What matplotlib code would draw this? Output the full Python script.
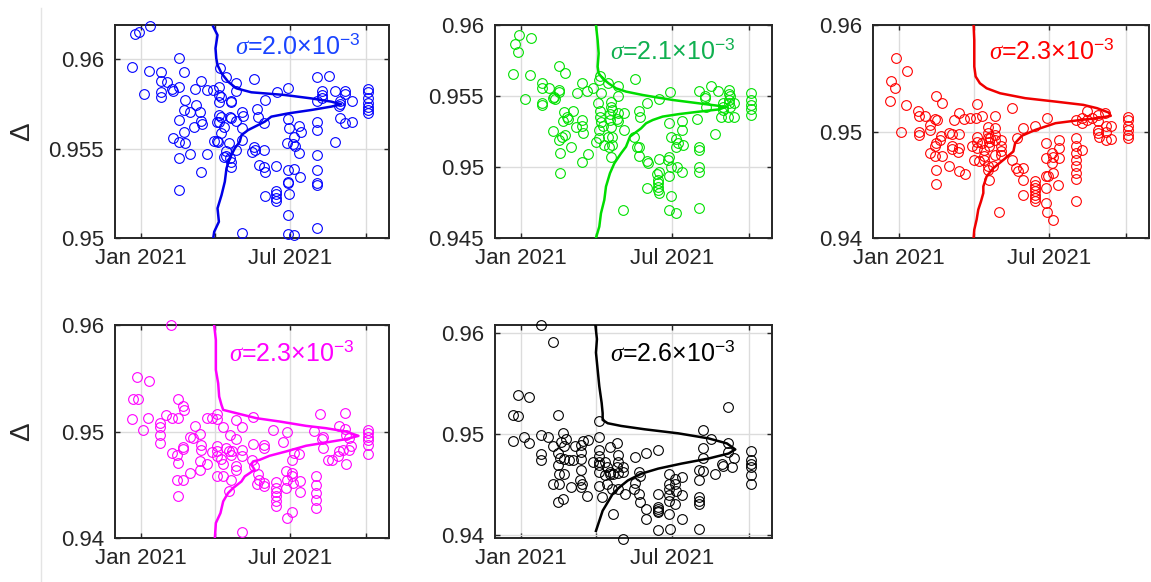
import numpy as np
import matplotlib
matplotlib.use('Agg')  # headless
import matplotlib.pyplot as plt
import matplotlib.dates as mdates
from matplotlib.lines import Line2D
from matplotlib.ticker import FuncFormatter, FormatStrFormatter

plt.rcParams['font.family'] = ['Liberation Sans', 'DejaVu Sans']
plt.rcParams['mathtext.fontset'] = 'custom'
plt.rcParams['mathtext.rm'] = 'Liberation Sans'
plt.rcParams['mathtext.it'] = 'Liberation Serif:italic'

# (days since 1 Jan 2021, Delta)
pts_1 = [
    (-7, 0.96138), (-2, 0.96149), (11, 0.96186), (-10, 0.95957), (46, 0.96007), (10, 0.95933),
    (25, 0.95929), (53, 0.95926), (25, 0.95877), (32, 0.95873), (4, 0.95803), (25, 0.95814),
    (25, 0.9579), (38, 0.95832), (39, 0.95821), (47, 0.95844), (73, 0.95877), (66, 0.95832),
    (80, 0.95825), (88, 0.95825), (95, 0.95844), (96, 0.95948), (103, 0.95901), (116, 0.95864),
    (116, 0.95821), (137, 0.95888), (54, 0.9577), (53, 0.95715), (60, 0.95702), (67, 0.95743),
    (72, 0.95706), (46, 0.9566), (73, 0.95655), (74, 0.95637), (65, 0.95622), (53, 0.95594),
    (39, 0.9556), (46, 0.95538), (54, 0.95533), (60, 0.95467), (80, 0.95467), (46, 0.95445),
    (73, 0.95367), (46, 0.9527), (95, 0.95799), (97, 0.9579), (109, 0.95765), (109, 0.95758),
    (95, 0.95758), (95, 0.95687), (97, 0.95678), (108, 0.95678), (109, 0.95672), (116, 0.95654),
    (123, 0.95706), (124, 0.95684), (92, 0.95646), (95, 0.95646), (101, 0.95622), (97, 0.95585),
    (89, 0.95542), (92, 0.95542), (94, 0.95538), (107, 0.95529), (103, 0.95486), (104, 0.9546),
    (108, 0.95445), (101, 0.95454), (110, 0.95427), (110, 0.95399), (116, 0.95492), (123, 0.95548),
    (123, 0.95616), (141, 0.95721), (151, 0.95769), (142, 0.95678), (149, 0.95644), (137, 0.95511),
    (135, 0.95479), (139, 0.95492), (149, 0.95492), (143, 0.95408), (150, 0.95395), (151, 0.95371),
    (165, 0.95818), (179, 0.95836), (164, 0.95402), (179, 0.95665), (180, 0.95613), (186, 0.95562),
    (192, 0.95624), (194, 0.9559), (185, 0.95523), (187, 0.95516), (192, 0.95473), (178, 0.95533),
    (179, 0.9538), (186, 0.95385), (193, 0.95343), (179, 0.95315), (179, 0.95306), (180, 0.95246),
    (164, 0.95263), (164, 0.95244), (164, 0.95225), (164, 0.95207), (151, 0.95235), (179, 0.95129),
    (179, 0.95022), (186, 0.95017), (123, 0.9503), (214, 0.95899), (228, 0.95907), (214, 0.95767),
    (220, 0.95821), (220, 0.95799), (220, 0.9578), (235, 0.95821), (248, 0.95821), (248, 0.95803),
    (242, 0.95765), (242, 0.95747), (256, 0.95765), (240, 0.95739), (242, 0.95669), (248, 0.95641),
    (256, 0.9565), (214, 0.9565), (214, 0.95603), (235, 0.95538), (214, 0.95464), (214, 0.9538),
    (214, 0.95305), (214, 0.95296), (214, 0.95054), (276, 0.95832), (276, 0.95814), (276, 0.95784),
    (276, 0.95752), (276, 0.95734), (276, 0.95715), (276, 0.95696),
]
pts_2 = [
    (-2, 0.9593), (-7, 0.95866), (-3, 0.9581), (12, 0.95906), (-9, 0.95655), (11, 0.95648), (5, 0.95481),
    (25, 0.95594), (25, 0.95554), (25, 0.95453), (25, 0.95434), (34, 0.95554), (39, 0.95484),
    (46, 0.95711), (53, 0.9566), (46, 0.95542), (46, 0.95531), (40, 0.95491), (41, 0.95477),
    (67, 0.95523), (73, 0.95594), (79, 0.95538), (87, 0.95554), (62, 0.95397), (52, 0.9539), (55, 0.95355),
    (50, 0.95326), (56, 0.9534), (73, 0.95331), (73, 0.95289), (75, 0.95237), (66, 0.95279), (39, 0.95256),
    (49, 0.95214), (53, 0.95225), (46, 0.9519), (60, 0.95139), (47, 0.95101), (80, 0.95092), (73, 0.95038),
    (47, 0.94956), (95, 0.95641), (94, 0.95613), (104, 0.95589), (117, 0.9557), (117, 0.955), (96, 0.95524),
    (93, 0.95453), (95, 0.95397), (108, 0.9546), (108, 0.9542), (109, 0.95401), (107, 0.95373),
    (117, 0.95383), (124, 0.95383), (115, 0.95336), (117, 0.95326), (95, 0.9535), (96, 0.9532), (98, 0.95289),
    (107, 0.95331), (108, 0.9528), (94, 0.95261), (124, 0.95261), (104, 0.95209), (109, 0.95214),
    (94, 0.95202), (90, 0.95178), (100, 0.95155), (106, 0.95143), (109, 0.95155), (108, 0.95073),
    (137, 0.95617), (151, 0.95453), (141, 0.95397), (143, 0.95355), (165, 0.95477), (179, 0.95531),
    (136, 0.95209), (139, 0.95143), (142, 0.95139), (142, 0.95078), (151, 0.95045), (152, 0.95031),
    (165, 0.95059), (165, 0.94967), (163, 0.94951), (164, 0.94909), (164, 0.94885), (164, 0.94862),
    (164, 0.94838), (165, 0.94815), (151, 0.9485), (122, 0.94697), (178, 0.95308), (180, 0.95214),
    (186, 0.95195), (188, 0.95167), (194, 0.95155), (186, 0.95143), (177, 0.95073), (176, 0.95049),
    (180, 0.94998), (187, 0.95003), (178, 0.94937), (180, 0.94796), (178, 0.94697), (186, 0.94674),
    (193, 0.95326), (193, 0.95261), (193, 0.94967), (214, 0.95538), (214, 0.95143), (214, 0.9512),
    (214, 0.95003), (214, 0.94967), (214, 0.94709), (221, 0.955), (221, 0.95484), (228, 0.9557),
    (236, 0.95538), (249, 0.95542), (249, 0.95514), (242, 0.95448), (242, 0.9542), (242, 0.95401),
    (250, 0.95472), (250, 0.95448), (256, 0.95453), (222, 0.95425), (233, 0.95232), (211, 0.95336),
    (240, 0.9535), (248, 0.95355), (255, 0.95355), (276, 0.95524), (276, 0.95472), (276, 0.95437),
    (276, 0.95406), (276, 0.95366), (251, 0.955), (251, 0.9542),
]
pts_3 = [
    (-3, 0.95688), (10, 0.95569), (-9, 0.95478), (-4, 0.9541), (-11, 0.95284), (9, 0.9525), (3, 0.94997),
    (23, 0.95188), (24, 0.95141), (24, 0.95), (24, 0.94969), (32, 0.95141), (45, 0.95334), (52, 0.95272),
    (43, 0.95116), (46, 0.9511), (38, 0.95063), (38, 0.95016), (51, 0.94959), (50, 0.94916), (45, 0.94891),
    (43, 0.9486), (60, 0.94984), (64, 0.94978), (72, 0.94978), (64, 0.9486), (72, 0.94844), (71, 0.94803),
    (64, 0.94834), (38, 0.94797), (44, 0.94766), (52, 0.94766), (45, 0.94641), (60, 0.94672), (72, 0.94625),
    (80, 0.946), (45, 0.94509), (72, 0.95178), (66, 0.9511), (78, 0.95116), (86, 0.95125), (94, 0.95259),
    (100, 0.95147), (116, 0.95147), (93, 0.95125), (94, 0.94953), (94, 0.94906), (94, 0.94844),
    (100, 0.94891), (103, 0.94828), (107, 0.9504), (107, 0.94984), (107, 0.94938), (108, 0.94897),
    (108, 0.9486), (110, 0.94938), (116, 0.95031), (116, 0.94969), (116, 0.94922), (123, 0.94922),
    (123, 0.9486), (123, 0.94813), (88, 0.9486), (90, 0.94734), (97, 0.94719), (103, 0.94766),
    (103, 0.94734), (107, 0.94672), (107, 0.94634), (113, 0.94672), (109, 0.94547), (116, 0.94781),
    (123, 0.94781), (136, 0.95219), (150, 0.95031), (164, 0.95053), (178, 0.95131), (142, 0.94938),
    (136, 0.94734), (141, 0.94656), (143, 0.94625), (150, 0.94656), (150, 0.94541), (150, 0.94406),
    (164, 0.94531), (164, 0.945), (164, 0.94469), (164, 0.94438), (164, 0.94406), (164, 0.94375),
    (164, 0.94344), (177, 0.94891), (177, 0.9475), (177, 0.94584), (179, 0.94578), (177, 0.94469),
    (177, 0.94328), (178, 0.94241), (185, 0.94172), (184, 0.94797), (186, 0.9476), (184, 0.94703),
    (186, 0.94609), (193, 0.94922), (193, 0.94844), (193, 0.9475), (192, 0.945), (121, 0.94241),
    (213, 0.95109), (213, 0.94938), (213, 0.94866), (213, 0.94797), (213, 0.94734), (213, 0.94672),
    (213, 0.94609), (213, 0.94553), (213, 0.94344), (221, 0.95125), (221, 0.95078), (227, 0.95197),
    (232, 0.95125), (240, 0.95156), (240, 0.95094), (240, 0.95016), (240, 0.94984), (241, 0.94953),
    (248, 0.95172), (249, 0.95047), (249, 0.95), (249, 0.94916), (255, 0.95053), (255, 0.94934),
    (227, 0.95109), (276, 0.95134), (276, 0.9511), (276, 0.95053), (276, 0.95016), (276, 0.94969),
    (276, 0.94938), (221, 0.94828),
]
pts_4 = [
    (37, 0.96), (-4, 0.95516), (10, 0.95478), (-9, 0.95303), (-3, 0.95303), (-11, 0.95116), (9, 0.95125),
    (3, 0.95016), (45, 0.95303), (52, 0.95241), (53, 0.95203), (31, 0.95156), (38, 0.95125), (45, 0.95125),
    (23, 0.95078), (24, 0.95041), (24, 0.94969), (24, 0.94891), (38, 0.94797), (44, 0.94781), (52, 0.94859),
    (52, 0.94834), (60, 0.94953), (66, 0.95047), (64, 0.94938), (72, 0.94978), (73, 0.94875), (73, 0.94822),
    (72, 0.94719), (72, 0.94634), (45, 0.94703), (60, 0.94609), (44, 0.94547), (52, 0.94547), (45, 0.94391),
    (80, 0.95125), (86, 0.95125), (80, 0.94697), (93, 0.95163), (93, 0.95116), (100, 0.95041),
    (116, 0.95109), (123, 0.95041), (108, 0.94969), (116, 0.94928), (93, 0.94866), (93, 0.94813),
    (93, 0.94766), (97, 0.94741), (86, 0.94803), (103, 0.94844), (107, 0.94813), (109, 0.94781),
    (111, 0.94813), (100, 0.94697), (116, 0.94672), (116, 0.94634), (123, 0.94828), (123, 0.94772),
    (93, 0.94584), (100, 0.94578), (109, 0.94541), (107, 0.94438), (136, 0.95134), (161, 0.95016),
    (178, 0.95), (136, 0.94884), (150, 0.94875), (150, 0.94844), (135, 0.94734), (137, 0.94672),
    (142, 0.94603), (143, 0.94547), (141, 0.94509), (150, 0.94516), (150, 0.94484), (164, 0.94522),
    (164, 0.94469), (164, 0.94428), (164, 0.94391), (164, 0.94344), (164, 0.94303), (176, 0.94625),
    (177, 0.94547), (176, 0.94469), (184, 0.94728), (184, 0.94609), (184, 0.94578), (185, 0.94516),
    (193, 0.94531), (193, 0.94428), (184, 0.94241), (178, 0.94188), (186, 0.94797), (192, 0.9479),
    (123, 0.94053), (173, 0.94906), (218, 0.95163), (220, 0.94928), (221, 0.94844), (210, 0.95009),
    (213, 0.94578), (213, 0.945), (213, 0.94422), (213, 0.94359), (213, 0.94281), (227, 0.94734),
    (232, 0.94734), (239, 0.94766), (241, 0.94813), (245, 0.94828), (248, 0.95178), (248, 0.95022),
    (249, 0.94969), (249, 0.94697), (255, 0.9486), (253, 0.94822), (241, 0.95053), (221, 0.94953),
    (276, 0.95016), (276, 0.94984), (276, 0.94953), (276, 0.94922), (276, 0.94875), (276, 0.9479),
    (253, 0.94938),
]
pts_5 = [
    (24, 0.9608), (38, 0.95913), (-4, 0.9539), (10, 0.95367), (-10, 0.9519), (-4, 0.9518), (45, 0.9519),
    (4, 0.94967), (-10, 0.94933), (10, 0.94913), (24, 0.9499), (32, 0.94973), (24, 0.94807), (24, 0.9474),
    (39, 0.9488), (51, 0.95007), (54, 0.94947), (48, 0.94923), (52, 0.9488), (44, 0.94813), (47, 0.94767),
    (52, 0.94757), (58, 0.9474), (65, 0.9488), (72, 0.9489), (74, 0.94933), (80, 0.9494), (72, 0.94823),
    (63, 0.94747), (72, 0.94757), (45, 0.9469), (46, 0.94607), (52, 0.94607), (72, 0.9464), (71, 0.94547),
    (73, 0.945), (72, 0.9448), (38, 0.945), (46, 0.94507), (60, 0.94473), (79, 0.9439), (45, 0.94323),
    (51, 0.94357), (94, 0.95133), (94, 0.94973), (107, 0.94873), (115, 0.94907), (94, 0.9484), (94, 0.9478),
    (94, 0.94723), (94, 0.9469), (87, 0.94723), (101, 0.94723), (103, 0.94673), (107, 0.94623), (107, 0.946),
    (110, 0.94607), (117, 0.94613), (115, 0.94673), (123, 0.94673), (123, 0.94623), (117, 0.94723),
    (117, 0.9479), (94, 0.94623), (101, 0.9459), (94, 0.9449), (103, 0.94507), (109, 0.94457),
    (117, 0.94457), (125, 0.94407), (97, 0.94373), (110, 0.94207), (137, 0.94773), (150, 0.94813),
    (164, 0.9484), (141, 0.94623), (143, 0.9458), (137, 0.94513), (136, 0.94457), (141, 0.94407),
    (143, 0.94323), (150, 0.94257), (150, 0.94157), (164, 0.94407), (164, 0.94273), (164, 0.94257),
    (164, 0.9424), (164, 0.94223), (164, 0.94047), (178, 0.946), (178, 0.94507), (178, 0.94457),
    (178, 0.944), (178, 0.9434), (185, 0.94557), (185, 0.94507), (186, 0.9444), (193, 0.94573),
    (193, 0.944), (185, 0.94307), (178, 0.94207), (193, 0.94157), (179, 0.94057), (122, 0.93957),
    (214, 0.9438), (214, 0.9434), (214, 0.94307), (214, 0.9464), (214, 0.9454), (214, 0.9406),
    (218, 0.9504), (228, 0.94947), (218, 0.94857), (218, 0.94767), (218, 0.94633), (233, 0.94607),
    (241, 0.94707), (242, 0.9468), (248, 0.95267), (248, 0.94907), (248, 0.94823), (255, 0.94767),
    (253, 0.94673), (276, 0.94833), (276, 0.9474), (276, 0.947), (276, 0.94673), (276, 0.9459), (276, 0.945),
]

# distribution curves: (Delta, relative density, peak = 1)
curve_1 = [
    (0.96181, -0.013), (0.96134, 0.021), (0.9606, 0.005), (0.96004, 0.011), (0.95966, 0.021),
    (0.9592, 0.053), (0.95873, 0.105), (0.95836, 0.171), (0.95814, 0.289), (0.95799, 0.553),
    (0.9578, 0.763), (0.95762, 0.921), (0.95747, 1.0), (0.95734, 0.921), (0.95715, 0.763),
    (0.95696, 0.579), (0.95678, 0.447), (0.9565, 0.395), (0.95631, 0.342), (0.95603, 0.263),
    (0.95575, 0.211), (0.95538, 0.197), (0.95501, 0.158), (0.95445, 0.118), (0.95389, 0.092),
    (0.95315, 0.079), (0.9524, 0.053), (0.95166, 0.021), (0.95091, 0.032), (0.95035, -0.005), (0.95, -0.013),
]
curve_2 = [
    (0.96, 0.0), (0.95894, 0.013), (0.958, 0.021), (0.95707, 0.013), (0.9566, 0.021), (0.95624, 0.052),
    (0.95589, 0.099), (0.95554, 0.156), (0.95531, 0.234), (0.95507, 0.364), (0.95491, 0.468),
    (0.95472, 0.597), (0.95448, 0.805), (0.9543, 0.961), (0.9542, 1.0), (0.95406, 0.961), (0.9539, 0.805),
    (0.95373, 0.649), (0.95355, 0.519), (0.95331, 0.442), (0.95308, 0.39), (0.95272, 0.351),
    (0.95237, 0.299), (0.95214, 0.265), (0.95143, 0.234), (0.95096, 0.195), (0.95026, 0.143),
    (0.94956, 0.109), (0.94862, 0.078), (0.94768, 0.065), (0.94674, 0.039), (0.9458, 0.026), (0.945, 0.0),
]
curve_3 = [
    (0.96, 0.0), (0.95859, 0.005), (0.95734, 0.005), (0.9561, 0.005), (0.95516, 0.015), (0.95453, 0.046),
    (0.95406, 0.095), (0.95359, 0.193), (0.95313, 0.376), (0.95281, 0.596), (0.9525, 0.8), (0.95219, 0.9),
    (0.95178, 0.985), (0.95147, 1.0), (0.95125, 0.9), (0.9511, 0.792), (0.95078, 0.597), (0.95016, 0.452),
    (0.9496, 0.352), (0.94891, 0.303), (0.94813, 0.29), (0.94734, 0.218), (0.94656, 0.144),
    (0.94578, 0.095), (0.94484, 0.071), (0.94422, 0.071), (0.94344, 0.054), (0.94266, 0.034),
    (0.94172, 0.022), (0.94078, 0.005), (0.94, 0.0),
]
curve_4 = [
    (0.96, -0.005), (0.95859, 0.007), (0.95734, 0.007), (0.95578, 0.007), (0.95453, 0.023), (0.95328, 0.03),
    (0.9525, 0.046), (0.95203, 0.058), (0.95172, 0.15), (0.95125, 0.289), (0.95094, 0.45), (0.95053, 0.635),
    (0.95031, 0.774), (0.95, 0.912), (0.94959, 1.0), (0.94928, 0.912), (0.94897, 0.774), (0.94866, 0.635),
    (0.94813, 0.497), (0.94772, 0.381), (0.94734, 0.312), (0.94719, 0.266), (0.94688, 0.254),
    (0.94641, 0.277), (0.94609, 0.242), (0.94578, 0.208), (0.94531, 0.185), (0.94469, 0.127),
    (0.94422, 0.092), (0.94344, 0.058), (0.94234, 0.039), (0.94141, 0.007), (0.94, 0.0),
]
curve_5 = [
    (0.9609, -0.005), (0.9594, 0.007), (0.95807, 0.0), (0.9564, 0.012), (0.95473, 0.024), (0.95307, 0.041),
    (0.95207, 0.048), (0.9514, 0.048), (0.95107, 0.084), (0.9508, 0.181), (0.95047, 0.349), (0.95007, 0.59),
    (0.94957, 0.807), (0.94907, 0.94), (0.94847, 1.0), (0.94807, 0.952), (0.94757, 0.807), (0.94707, 0.614),
    (0.94657, 0.446), (0.94607, 0.325), (0.9454, 0.229), (0.94473, 0.169), (0.94407, 0.12),
    (0.94323, 0.084), (0.9424, 0.048), (0.9414, 0.024), (0.9404, 0.0),
]

sigmas = [2.0, 2.1, 2.3, 2.3, 2.6]          # x 10^-3
peak_days = [153, 154, 165, 174, 167]       # width of the curve peak along the time axis
ylims = [(0.95, 0.9619), (0.945, 0.96), (0.94, 0.96), (0.94, 0.96), (0.9397, 0.9608)]
yticks = [[0.95, 0.955, 0.96], [0.945, 0.95, 0.955, 0.96], [0.94, 0.95, 0.96],
          [0.94, 0.95, 0.96], [0.94, 0.95, 0.96]]

W, H = 1151, 582
# axes boxes in pixels: left, right, top, bottom
boxes = [(115, 389, 25, 238), (495, 772, 25, 238), (873, 1149, 25, 238),
         (115, 389, 325, 538), (495, 772, 325, 538)]
marker_colors = ['#0000ff', '#00e000', '#ff0000', '#ff00ff', '#000000']
line_colors = ['#0000e6', '#00dd00', '#f00000', '#ff00ff', '#000000']
text_colors = ['#1a44ff', '#10b050', '#ff0000', '#ff00ff', '#000000']
text_pos = [(0.438, 0.9), (0.415, 0.875), (0.42, 0.875), (0.416, 0.865), (0.415, 0.865)]

jan1 = mdates.date2num(np.datetime64('2021-01-01'))
apr1 = mdates.date2num(np.datetime64('2021-04-01'))


def tick_label(x, pos):
    d = mdates.num2date(x)
    return d.strftime('%b %Y') if d.month in (1, 7) else ''


fig = plt.figure(figsize=(W / 100, H / 100), dpi=100)
fig.add_artist(Line2D([41 / W, 41 / W], [0, 1 - 8 / H], color='#e4e4e4', lw=1))

all_pts = [pts_1, pts_2, pts_3, pts_4, pts_5]
all_curves = [curve_1, curve_2, curve_3, curve_4, curve_5]

for i in range(5):
    l, r, t, b = boxes[i]
    ax = fig.add_axes([l / W, 1 - b / H, (r - l) / W, (b - t) / H])

    days, vals = np.array(all_pts[i]).T
    ax.plot(jan1 + days, vals, 'o', mfc='none', mec=marker_colors[i], ms=7, mew=0.8,
            clip_on=False, zorder=3)

    cy, cw = np.array(all_curves[i]).T
    ax.plot(apr1 + cw * peak_days[i], cy, color=line_colors[i], lw=1.8, zorder=4)

    ax.text(text_pos[i][0], text_pos[i][1],
            '$\\sigma$=%.1f×10$^{-3}$' % sigmas[i],
            transform=ax.transAxes, ha='left', va='center', fontsize=18,
            color=text_colors[i], zorder=5)

    ax.set_xlim(jan1 - 31, jan1 + 301)
    ax.set_ylim(*ylims[i])
    ax.xaxis.set_major_locator(mdates.MonthLocator(bymonth=[1, 4, 7, 10]))
    ax.xaxis.set_major_formatter(FuncFormatter(tick_label))
    ax.set_yticks(yticks[i])
    ax.yaxis.set_major_formatter(FormatStrFormatter('%g'))

    ax.grid(True, color='#dcdcdc', lw=1.0, zorder=0)
    ax.set_axisbelow(True)
    ax.tick_params(direction='in', top=True, right=True, length=3.5, width=1,
                   labelsize=16, colors='#262626')
    ax.tick_params(axis='x', pad=7)
    ax.tick_params(axis='y', pad=8)
    for sp in ax.spines.values():
        sp.set_linewidth(1.4)
        sp.set_color('#262626')

    if i in (0, 3):
        fig.text(22 / W, 1 - ((t + b) / 2) / H, 'Δ', rotation=90, ha='center', va='center',
                 fontsize=20, color='#262626')

fig.savefig('out.png', dpi=100)
